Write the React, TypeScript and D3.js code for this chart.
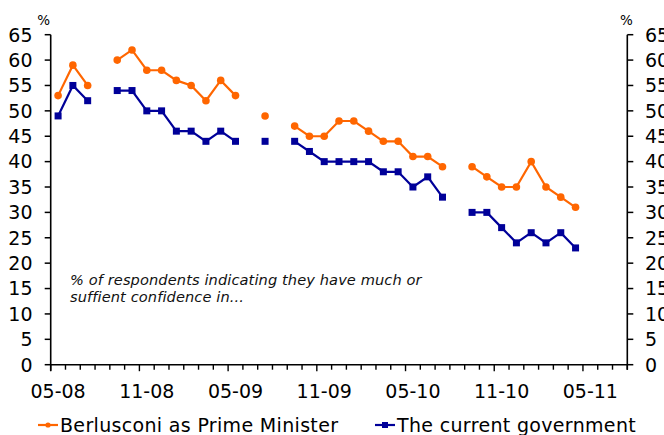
import React from "react";
import * as d3 from "d3";

const months: string[] = [
  "2008-05","2008-06","2008-07","2008-08","2008-09","2008-10","2008-11","2008-12",
  "2009-01","2009-02","2009-03","2009-04","2009-05","2009-06","2009-07","2009-08",
  "2009-09","2009-10","2009-11","2009-12","2010-01","2010-02","2010-03","2010-04",
  "2010-05","2010-06","2010-07","2010-08","2010-09","2010-10","2010-11","2010-12",
  "2011-01","2011-02","2011-03","2011-04",
];
const berlusconi: (number | null)[] = [
  53, 59, 55, null, 60, 62, 58, 58, 56, 55, 52, 56, 53, null, 49, null, 47, 45, 45, 48,
  48, 46, 44, 44, 41, 41, 39, null, 39, 37, 35, 35, 40, 35, 33, 31,
];
const government: (number | null)[] = [
  49, 55, 52, null, 54, 54, 50, 50, 46, 46, 44, 46, 44, null, 44, null, 44, 42, 40, 40,
  40, 40, 38, 38, 35, 37, 33, null, 30, 30, 27, 24, 26, 24, 26, 23,
];
const xTickLabels: string[] = ["05-08", "11-08", "05-09", "11-09", "05-10", "11-10", "05-11"];
const yTicks: number[] = [0, 5, 10, 15, 20, 25, 30, 35, 40, 45, 50, 55, 60, 65];
const seriesNames: string[] = ["Berlusconi as Prime Minister", "The current government"];
const noteLines: string[] = [
  "% of respondents indicating they have much or",
  "suffient confidence in...",
];

const ORANGE = "#FF6600";
const BLUE = "#000099";
const FONT = "DejaVu Sans, Verdana, sans-serif";

export default function App() {
  const W = 664, H = 435;
  const left = 50.7, right = 627.3, top = 34.7, bottom = 364.7;
  const totalMonths = 39;
  const x = d3.scaleLinear().domain([0, totalMonths]).range([left, right]);
  const y = d3.scaleLinear().domain([0, 65]).range([bottom, top]);

  const line = d3
    .line<number | null>()
    .defined((d) => d !== null)
    .x((_, i) => x(i + 0.5))
    .y((d) => y(d as number));

  const monthTicks = d3.range(0, totalMonths + 1);

  return (
    <svg
      width={W}
      height={H}
      style={{ position: "absolute", left: 0, top: 0, background: "#fff" }}
      fontFamily={FONT}
      data-months={months.length}
    >
      {/* left axis */}
      <line x1={left} x2={left} y1={top} y2={bottom + 6} stroke="#000" strokeWidth={1.6} />
      {yTicks.map((t) => (
        <g key={"l" + t}>
          <line x1={left - 6} x2={left} y1={y(t)} y2={y(t)} stroke="#000" strokeWidth={1.5} />
          <text x={32.5} y={y(t)} dy="0.36em" textAnchor="end" fontSize={19} fill="#000">
            {t}
          </text>
        </g>
      ))}
      <text x={50} y={25} textAnchor="end" fontSize={13.5} fill="#000">%</text>

      {/* right axis */}
      <line x1={right} x2={right} y1={top} y2={bottom + 5} stroke="#000" strokeWidth={1.6} />
      {yTicks.map((t) => (
        <g key={"r" + t}>
          <line x1={right} x2={right + 6} y1={y(t)} y2={y(t)} stroke="#000" strokeWidth={1.5} />
          <text x={645} y={y(t)} dy="0.36em" textAnchor="start" fontSize={19} fill="#000">
            {t}
          </text>
        </g>
      ))}
      <text x={620} y={25} textAnchor="start" fontSize={13.5} fill="#000">%</text>

      {/* x axis */}
      <line x1={left} x2={right} y1={bottom} y2={bottom} stroke="#000" strokeWidth={1.6} />
      {monthTicks.map((m) => (
        <line
          key={"xt" + m}
          x1={x(m)}
          x2={x(m)}
          y1={bottom}
          y2={bottom + (m % 6 === 0 ? 6.5 : 5)}
          stroke="#000"
          strokeWidth={1.4}
        />
      ))}
      {xTickLabels.map((lab, k) => (
        <text
          key={lab}
          x={x(k * 6 + 0.5)}
          y={398}
          textAnchor="middle"
          fontSize={19}
          fill="#000"
        >
          {lab}
        </text>
      ))}

      {/* note */}
      {noteLines.map((l, i) => (
        <text
          key={i}
          x={70}
          y={285 + i * 16.5}
          fontSize={14.6}
          letterSpacing={0.1}
          fontStyle="italic"
          fill="#111"
        >
          {l}
        </text>
      ))}

      {/* series */}
      <path d={line(government) || ""} fill="none" stroke={BLUE} strokeWidth={2.2} />
      <path d={line(berlusconi) || ""} fill="none" stroke={ORANGE} strokeWidth={2.2} />
      {government.map((v, i) =>
        v === null ? null : (
          <rect
            key={"g" + i}
            x={x(i + 0.5) - 3.5}
            y={y(v) - 3.5}
            width={7}
            height={7}
            fill={BLUE}
          />
        )
      )}
      {berlusconi.map((v, i) =>
        v === null ? null : (
          <circle key={"b" + i} cx={x(i + 0.5)} cy={y(v)} r={3.8} fill={ORANGE} />
        )
      )}

      {/* legend */}
      <line x1={38} x2={58} y1={425} y2={425} stroke={ORANGE} strokeWidth={2.2} />
      <circle cx={48} cy={425} r={2.6} fill={ORANGE} />
      <text x={60} y={432} fontSize={19} letterSpacing={0.33} fill="#000">{seriesNames[0]}</text>
      <line x1={375} x2={395} y1={425} y2={425} stroke={BLUE} strokeWidth={2.2} />
      <rect x={382} y={422} width={6} height={6} fill={BLUE} />
      <text x={397} y={432} fontSize={19} letterSpacing={0.33} fill="#000">{seriesNames[1]}</text>
    </svg>
  );
}
